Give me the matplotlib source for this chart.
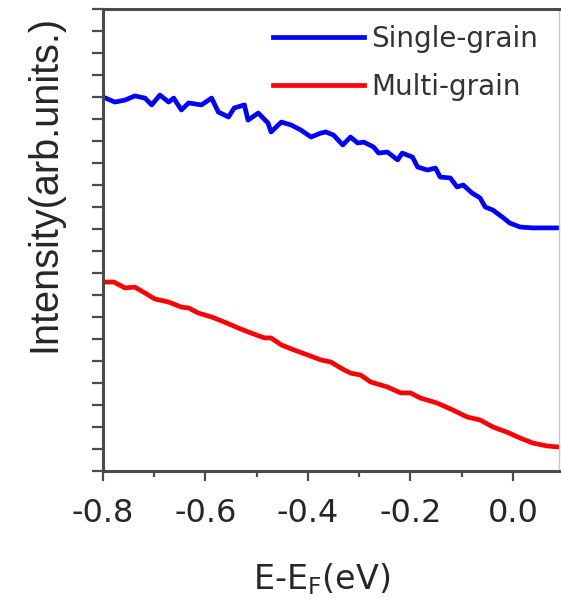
import matplotlib
matplotlib.use("Agg")
import matplotlib.pyplot as plt
from matplotlib.ticker import MultipleLocator, NullFormatter

# values (x in eV, y in arbitrary units)
single_x = [-0.800, -0.777, -0.757, -0.738, -0.718, -0.705, -0.689, -0.672, -0.662,
            -0.647, -0.633, -0.608, -0.588, -0.575, -0.555, -0.544, -0.524, -0.517,
            -0.497, -0.478, -0.472, -0.452, -0.433, -0.414, -0.394, -0.375, -0.365,
            -0.350, -0.332, -0.317, -0.303, -0.291, -0.272, -0.262, -0.245, -0.225,
            -0.216, -0.196, -0.186, -0.167, -0.151, -0.142, -0.122, -0.109, -0.097,
            -0.080, -0.064, -0.054, -0.039, -0.021, -0.006, 0.014, 0.039, 0.090]
single_y = [17.00, 16.77, 16.86, 17.05, 16.95, 16.64, 17.09, 16.77, 16.95,
            16.41, 16.73, 16.64, 16.95, 16.32, 16.09, 16.50, 16.64, 15.95,
            16.27, 15.82, 15.41, 15.86, 15.73, 15.50, 15.18, 15.36, 15.41,
            15.27, 14.82, 15.18, 14.91, 14.95, 14.73, 14.45, 14.50, 14.14,
            14.45, 14.27, 13.82, 13.68, 13.77, 13.36, 13.32, 12.91, 13.00,
            12.64, 12.41, 12.00, 11.86, 11.55, 11.27, 11.09, 11.05, 11.05]

multi_x = [-0.800, -0.779, -0.757, -0.738, -0.718, -0.699, -0.672, -0.647, -0.633,
           -0.614, -0.588, -0.563, -0.536, -0.511, -0.485, -0.472, -0.452, -0.427,
           -0.400, -0.375, -0.355, -0.336, -0.317, -0.297, -0.278, -0.245, -0.219,
           -0.200, -0.181, -0.148, -0.117, -0.089, -0.064, -0.039, -0.012, 0.014,
           0.039, 0.066, 0.090]
multi_y = [8.59, 8.59, 8.32, 8.36, 8.09, 7.82, 7.68, 7.45, 7.41,
           7.18, 7.00, 6.77, 6.50, 6.27, 6.05, 6.05, 5.73, 5.50,
           5.27, 5.05, 4.95, 4.68, 4.45, 4.36, 4.05, 3.82, 3.55,
           3.55, 3.32, 3.09, 2.77, 2.45, 2.32, 2.00, 1.77, 1.50,
           1.27, 1.14, 1.09]

x_ticks = [-0.8, -0.6, -0.4, -0.2, 0.0]
x_ticklabels = ["-0.8", "-0.6", "-0.4", "-0.2", "0.0"]

label_font = "DejaVu Sans"
axis_grey = "#4a4a4a"
text_grey = "#262626"

fig = plt.figure(figsize=(5.61, 6.09), dpi=100)
ax = fig.add_axes([103 / 561, 1 - 471 / 609, 456 / 561, 462 / 609])

ax.plot(single_x, single_y, color="#0000ff", lw=3.4, label="Single-grain")
ax.plot(multi_x, multi_y, color="#ff0000", lw=3.4, label="Multi-grain")

ax.set_xlim(-0.8, 0.09)
ax.set_ylim(0, 21)

ax.set_xticks(x_ticks)
ax.set_xticklabels(x_ticklabels, fontfamily=label_font, fontsize=23, color=text_grey)
ax.xaxis.set_minor_locator(MultipleLocator(0.1))
ax.yaxis.set_major_locator(MultipleLocator(1))
ax.yaxis.set_major_formatter(NullFormatter())

ax.tick_params(axis="x", which="major", direction="out", length=7, width=1.6,
               color=axis_grey, pad=12.5)
ax.tick_params(axis="x", which="minor", direction="out", length=4, width=1.6,
               color=axis_grey)
ax.tick_params(axis="y", which="major", direction="out", length=8, width=1.6,
               color=axis_grey)

for side in ("left", "bottom", "top"):
    ax.spines[side].set_color(axis_grey)
    ax.spines[side].set_linewidth(2.2)
ax.spines["right"].set_color("#c8c8c8")
ax.spines["right"].set_linewidth(1.0)

ax.set_xlabel("E-E$_\\mathregular{F}$(eV)", fontfamily=label_font, fontsize=24,
              color=text_grey)
ax.xaxis.set_label_coords(0.48, -0.195)

fig.text(44 / 561, 1 - 183 / 609, "Intensity(arb.units.)", rotation=90,
         ha="center", va="center", fontfamily="Liberation Sans", fontsize=28.5,
         color=text_grey)

leg = ax.legend(loc="upper right", bbox_to_anchor=(0.985, 0.995), frameon=False,
                handlelength=3.3, handletextpad=0.25, labelspacing=0.72,
                borderaxespad=0.1, prop={"family": label_font, "size": 20})
for t in leg.get_texts():
    t.set_color("#333333")

fig.savefig("out.png", dpi=100)
